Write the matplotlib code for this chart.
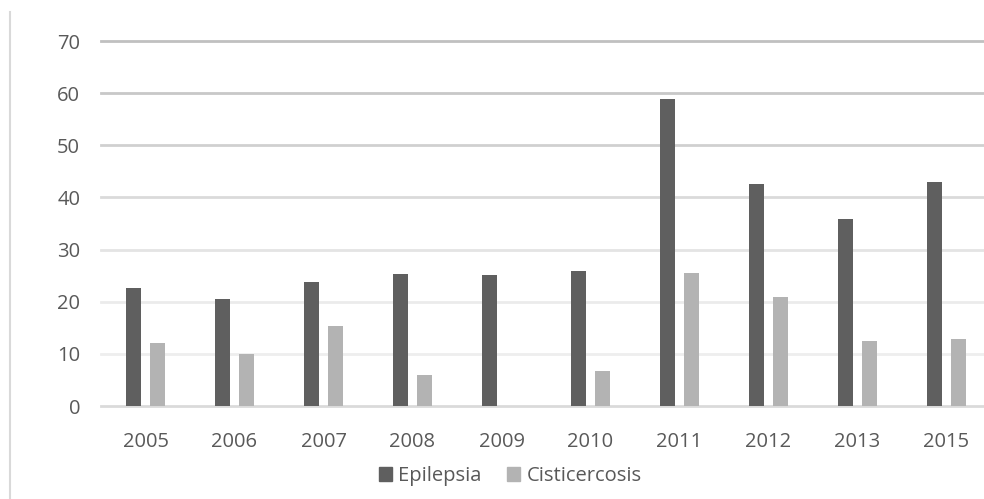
import matplotlib.pyplot as plt
from matplotlib.lines import Line2D
from matplotlib.patches import Patch
import numpy as np

years = ["2005", "2006", "2007", "2008", "2009", "2010", "2011", "2012", "2013", "2015"]
epilepsia = [22.7, 20.6, 23.8, 25.4, 25.2, 25.8, 58.8, 42.5, 35.8, 42.9]
cisticercosis = [12.1, 10.0, 15.4, 6.0, 0.0, 6.7, 25.6, 21.0, 12.5, 12.9]

dark = "#5f5f5f"
light = "#b3b3b3"
text_col = "#595959"

plt.rcParams["font.family"] = ["Open Sans", "DejaVu Sans"]

fig = plt.figure(figsize=(9.84, 4.99), dpi=100)
ax = fig.add_axes([101 / 984, 1 - 406 / 499, 890 / 984, (406 - 41) / 499])

x = np.arange(len(years))
w = 0.1685
off = 0.135
ax.bar(x - off, epilepsia, w, color=dark, zorder=3)
ax.bar(x + off, cisticercosis, w, color=light, zorder=3)

# horizontal grid, fading from top to bottom
yticks = [0, 10, 20, 30, 40, 50, 60, 70]
grid_cols = ["#dadada", "#eeeeee", "#ebebeb", "#e4e4e4", "#dadada", "#d0d0d0", "#c8c8c8", "#c0c0c0"]
for yv, c in zip(yticks, grid_cols):
    ax.axhline(yv, color=c, linewidth=2, zorder=1, clip_on=False)

ax.set_xlim(-0.5, len(years) - 0.5)
ax.set_ylim(0, 70)
ax.set_yticks(yticks)
ax.set_xticks(x)
ax.set_xticklabels(years)
for s in ax.spines.values():
    s.set_visible(False)
ax.tick_params(axis="both", length=0, labelsize=14.5, labelcolor=text_col)
ax.tick_params(axis="y", pad=15)
ax.tick_params(axis="x", pad=19)

# thin border on the left side of the chart area
fig.add_artist(Line2D([10 / 984, 10 / 984], [0, 1 - 12 / 499], transform=fig.transFigure,
                      color="#d9d9d9", linewidth=1.5))

handles = [Patch(color=dark, label="Epilepsia"), Patch(color=light, label="Cisticercosis")]
fig.legend(handles=handles, loc="center", bbox_to_anchor=(510 / 984, 1 - 476 / 499), ncol=2,
           frameon=False, fontsize=14.5, labelcolor=text_col, handlelength=0.65, handleheight=0.65,
           handletextpad=0.3, columnspacing=1.3, borderaxespad=0)

fig.savefig("out.png", dpi=100)
